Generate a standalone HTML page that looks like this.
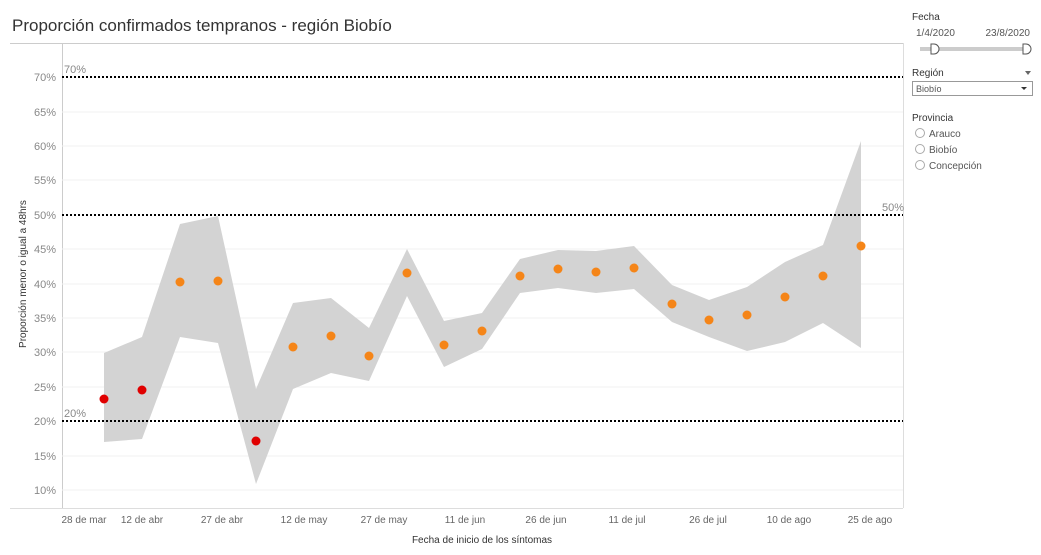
<!DOCTYPE html>
<html><head><meta charset="utf-8"><style>
body{margin:0;background:#fff;font-family:"Liberation Sans",sans-serif;}
svg text{font-family:"Liberation Sans",sans-serif;}
</style></head><body>
<svg width="1041" height="550" xmlns="http://www.w3.org/2000/svg">
<rect width="1041" height="550" fill="#fff"/>
<text x="12" y="31" font-size="17" fill="#333">Proporción confirmados tempranos - región Biobío</text>
<line x1="10" y1="43.5" x2="903" y2="43.5" stroke="#ccc"/>
<line x1="62.5" y1="43" x2="62.5" y2="508" stroke="#ccc"/>
<line x1="903.5" y1="43" x2="903.5" y2="508" stroke="#ddd"/>
<line x1="10" y1="508.5" x2="903" y2="508.5" stroke="#ddd"/>
<g stroke="#f0f0f0">
<line x1="62" y1="112" x2="903" y2="112"/><line x1="62" y1="146" x2="903" y2="146"/><line x1="62" y1="180" x2="903" y2="180"/><line x1="62" y1="249" x2="903" y2="249"/><line x1="62" y1="284" x2="903" y2="284"/><line x1="62" y1="318" x2="903" y2="318"/><line x1="62" y1="352" x2="903" y2="352"/><line x1="62" y1="387" x2="903" y2="387"/><line x1="62" y1="456" x2="903" y2="456"/><line x1="62" y1="490" x2="903" y2="490"/>
</g>
<g font-size="11" fill="#888" text-anchor="end">
<text x="56" y="81">70%</text><text x="56" y="116">65%</text><text x="56" y="150">60%</text><text x="56" y="184">55%</text><text x="56" y="219">50%</text><text x="56" y="253">45%</text><text x="56" y="288">40%</text><text x="56" y="322">35%</text><text x="56" y="356">30%</text><text x="56" y="391">25%</text><text x="56" y="425">20%</text><text x="56" y="460">15%</text><text x="56" y="494">10%</text>
</g>
<text transform="translate(26,274) rotate(-90)" font-size="10" fill="#333" text-anchor="middle">Proporción menor o igual a 48hrs</text>
<polygon fill="#d3d3d3" points="104,353 142,337 180,224 218,216 256,389 293,303 331,298 369,328 407,249 444,321 482,313 520,259 558,250 596,251 634,246 672,285 709,300 747,287 785,262 823,245 861,141 861,348 823,323 785,342 747,351 709,337 672,322 634,289 596,293 558,288 520,293 482,349 444,367 407,296 369,381 331,373 293,389 256,484 218,343 180,337 142,439 104,442"/>
<g stroke="#000" stroke-width="2" stroke-dasharray="2,2">
<line x1="62" y1="77" x2="903" y2="77"/><line x1="62" y1="215" x2="903" y2="215"/><line x1="62" y1="421" x2="903" y2="421"/>
</g>
<g font-size="11" fill="#888">
<text x="64" y="73">70%</text><text x="882" y="211">50%</text><text x="64" y="417">20%</text>
</g>
<g fill="#e00000">
<circle cx="104" cy="399" r="4.5"/><circle cx="142" cy="390" r="4.5"/><circle cx="256" cy="441" r="4.5"/>
</g>
<g fill="#f58518">
<circle cx="180" cy="282" r="4.5"/><circle cx="218" cy="281" r="4.5"/><circle cx="293" cy="347" r="4.5"/><circle cx="331" cy="336" r="4.5"/><circle cx="369" cy="356" r="4.5"/><circle cx="407" cy="273" r="4.5"/><circle cx="444" cy="345" r="4.5"/><circle cx="482" cy="331" r="4.5"/><circle cx="520" cy="276" r="4.5"/><circle cx="558" cy="269" r="4.5"/><circle cx="596" cy="272" r="4.5"/><circle cx="634" cy="268" r="4.5"/><circle cx="672" cy="304" r="4.5"/><circle cx="709" cy="320" r="4.5"/><circle cx="747" cy="315" r="4.5"/><circle cx="785" cy="297" r="4.5"/><circle cx="823" cy="276" r="4.5"/><circle cx="861" cy="246" r="4.5"/>
</g>
<g font-size="10" fill="#666" text-anchor="middle">
<text x="84" y="523">28 de mar</text><text x="142" y="523">12 de abr</text><text x="222" y="523">27 de abr</text><text x="304" y="523">12 de may</text><text x="384" y="523">27 de may</text><text x="465" y="523">11 de jun</text><text x="546" y="523">26 de jun</text><text x="627" y="523">11 de jul</text><text x="708" y="523">26 de jul</text><text x="789" y="523">10 de ago</text><text x="870" y="523">25 de ago</text>
</g>
<text x="482" y="543" font-size="10" fill="#333" text-anchor="middle">Fecha de inicio de los síntomas</text>
<g font-size="10" fill="#333">
<text x="912" y="20">Fecha</text>
<text x="916" y="36" fill="#555">1/4/2020</text><text x="1030" y="36" fill="#555" text-anchor="end">23/8/2020</text>
<rect x="920" y="47" width="106" height="4" fill="#ccc"/>
<path d="M931,44 h3 a5,5 0 0 1 0,10 h-3 z" fill="#fff" stroke="#555"/>
<path d="M1023,44 h3 a5,5 0 0 1 0,10 h-3 z" fill="#fff" stroke="#555"/>
<text x="912" y="76">Región</text>
<polygon points="1025,71 1031,71 1028,75" fill="#666"/>
<rect x="912.5" y="81.5" width="120" height="14" fill="#fff" stroke="#999"/>
<text x="916" y="92" fill="#555" font-size="9">Biobío</text>
<polygon points="1021,87 1027,87 1024,90" fill="#333"/>
<text x="912" y="121">Provincia</text>
<g fill="none" stroke="#aaa"><circle cx="920" cy="133" r="4.5"/><circle cx="920" cy="149" r="4.5"/><circle cx="920" cy="165" r="4.5"/></g>
<text x="929" y="137" fill="#555">Arauco</text><text x="929" y="153" fill="#555">Biobío</text><text x="929" y="169" fill="#555">Concepción</text>
</g>
</svg>
</body></html>
